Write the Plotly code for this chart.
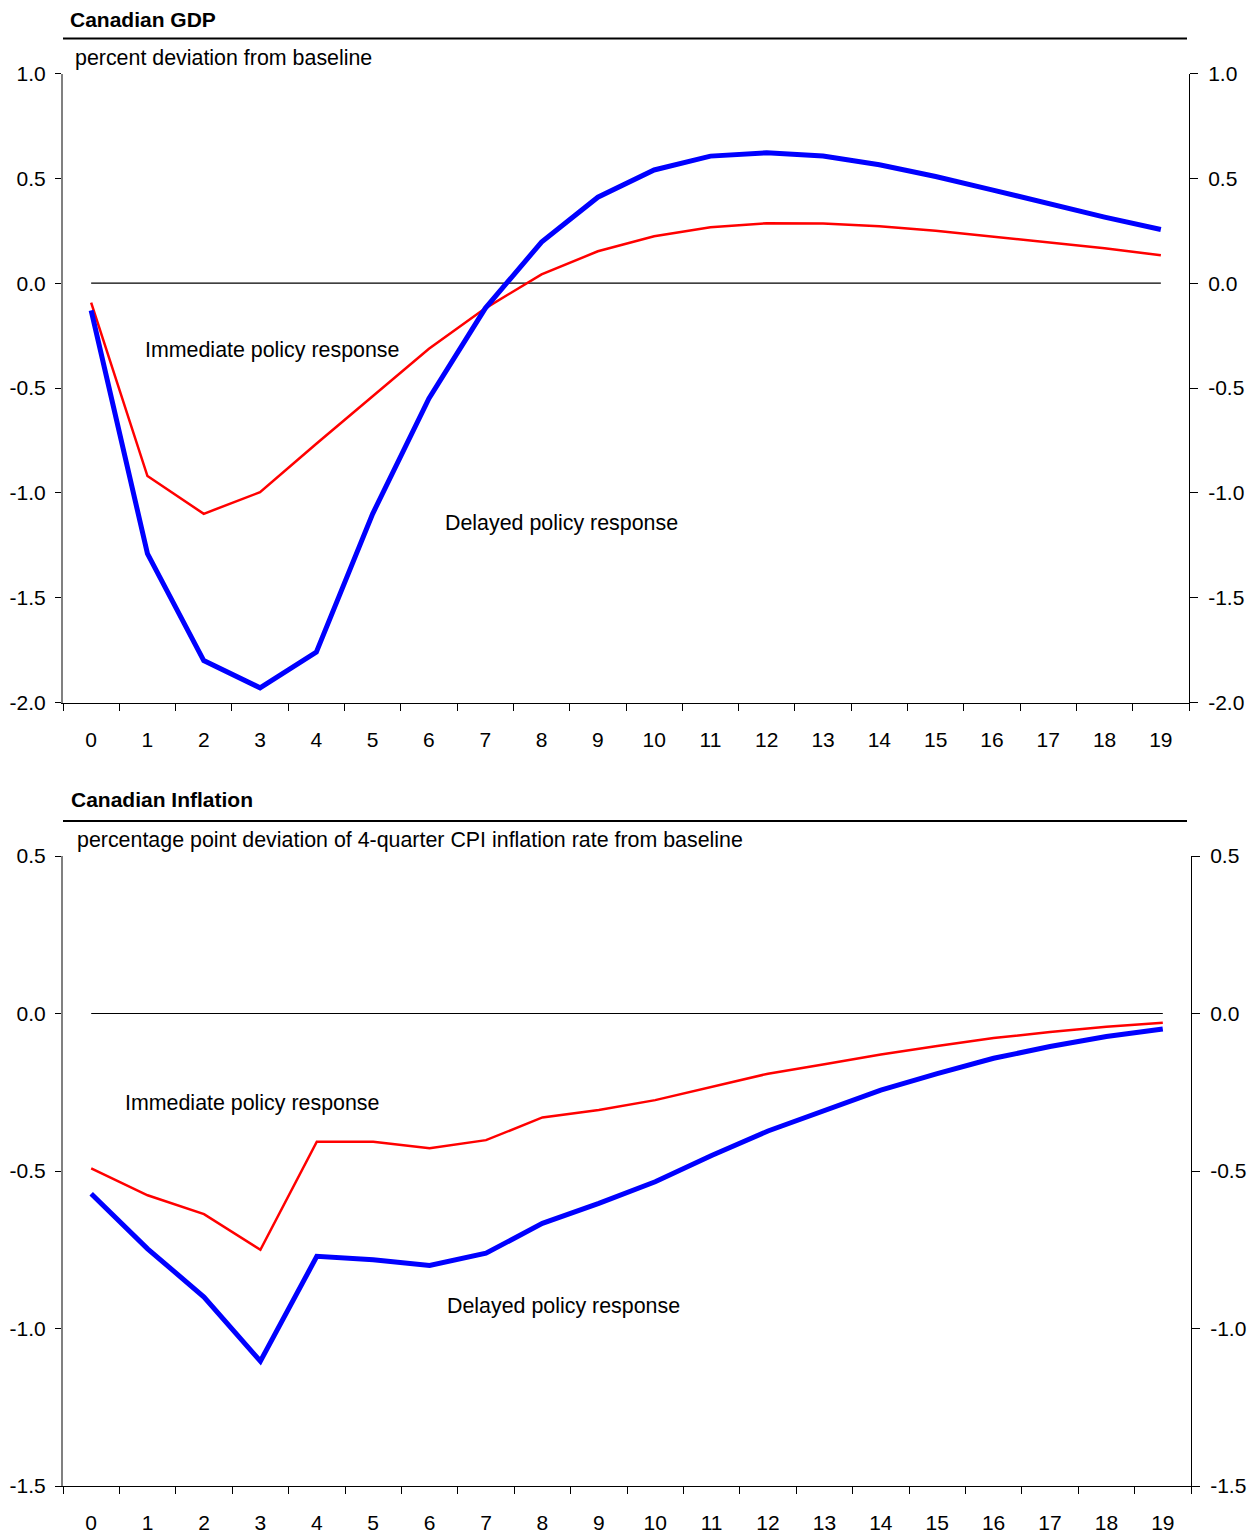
import plotly.graph_objects as go

W, H = 1259, 1537

# ---------------- data ----------------
quarters = [str(i) for i in range(20)]

gdp_delayed = [-0.13, -1.29, -1.80, -1.93, -1.76, -1.10, -0.55, -0.12, 0.196, 0.41,
               0.54, 0.606, 0.622, 0.606, 0.565, 0.509, 0.445, 0.379, 0.315, 0.256]
gdp_immediate = [-0.093, -0.92, -1.10, -0.997, -0.766, -0.54, -0.313, -0.12, 0.042, 0.152,
                 0.224, 0.267, 0.286, 0.285, 0.271, 0.250, 0.223, 0.197, 0.167, 0.133]

infl_delayed = [-0.572, -0.747, -0.900, -1.104, -0.771, -0.782, -0.800, -0.761, -0.666, -0.603,
                -0.534, -0.451, -0.373, -0.306, -0.243, -0.191, -0.142, -0.105, -0.073, -0.049]
infl_immediate = [-0.492, -0.577, -0.637, -0.750, -0.407, -0.407, -0.428, -0.402, -0.330, -0.306,
                  -0.275, -0.233, -0.191, -0.161, -0.130, -0.103, -0.078, -0.059, -0.042, -0.029]

gdp_tickvals = [1.0, 0.5, 0.0, -0.5, -1.0, -1.5, -2.0]
gdp_ticktext = ["1.0", "0.5", "0.0", "-0.5", "-1.0", "-1.5", "-2.0"]
infl_tickvals = [0.5, 0.0, -0.5, -1.0, -1.5]
infl_ticktext = ["0.5", "0.0", "-0.5", "-1.0", "-1.5"]

gdp_title = "Canadian GDP"
gdp_subtitle = "percent deviation from baseline"
infl_title = "Canadian Inflation"
infl_subtitle = "percentage point deviation of 4-quarter CPI inflation rate from baseline"
label_immediate = "Immediate policy response"
label_delayed = "Delayed policy response"

# ---------------- helpers ----------------
FONT = "Arial, Liberation Sans, sans-serif"
FS = 21
FS_TEXT = 21.4
BLUE = "#0000FF"
RED = "#FF0000"
OFF = 8  # page body margin


def px(x):
    return (x - OFF) / W


def py(y):
    return 1 - (y - OFF) / H


fig = go.Figure()

# GDP panel (red on main axis, blue on overlay so it sits on top)
fig.add_trace(go.Scatter(x=quarters, y=gdp_immediate, mode="lines",
                         line=dict(color=RED, width=2.5), xaxis="x", yaxis="y",
                         showlegend=False, hoverinfo="skip"))
fig.add_trace(go.Scatter(x=quarters, y=gdp_delayed, mode="lines",
                         line=dict(color=BLUE, width=5), xaxis="x", yaxis="y3",
                         showlegend=False, hoverinfo="skip"))
# Inflation panel
fig.add_trace(go.Scatter(x=quarters, y=infl_immediate, mode="lines",
                         line=dict(color=RED, width=2.5), xaxis="x2", yaxis="y2",
                         showlegend=False, hoverinfo="skip"))
fig.add_trace(go.Scatter(x=quarters, y=infl_delayed, mode="lines",
                         line=dict(color=BLUE, width=5), xaxis="x2", yaxis="y4",
                         showlegend=False, hoverinfo="skip"))

top_x = [px(63), px(1189)]
top_y = [py(702.5), py(73.5)]
bot_x = [px(63), px(1191)]
bot_y = [py(1486), py(856)]

xcommon = dict(type="category", tickson="boundaries", ticks="outside", ticklen=7,
               tickcolor="black", showline=True, linecolor="black", linewidth=1,
               showgrid=False, zeroline=False, range=[-0.5, 19.5], automargin=False,
               tickfont=dict(family=FONT, size=FS, color="black"),
               ticklabelstandoff=18, fixedrange=True)

ycommon = dict(tickcolor="black", showgrid=False, zeroline=False, showline=True,
               ticks="outside", automargin=False,
               tickfont=dict(family=FONT, size=FS, color="black"), fixedrange=True)

fig.update_layout(
    width=W, height=H,
    margin=dict(l=0, r=0, t=0, b=0, autoexpand=False),
    paper_bgcolor="white", plot_bgcolor="white",
    font=dict(family=FONT, size=FS, color="black"),
    showlegend=False,
    xaxis=dict(domain=top_x, anchor="y", **xcommon),
    yaxis=dict(domain=top_y, anchor="x", range=[-2, 1], tickmode="array",
               tickvals=gdp_tickvals, ticktext=gdp_ticktext, ticklen=6,
               ticklabelstandoff=5, linecolor="#808080", linewidth=2, **ycommon),
    yaxis3=dict(overlaying="y", side="right", anchor="x", range=[-2, 1], tickmode="array",
                tickvals=gdp_tickvals, ticktext=gdp_ticktext, ticklen=8,
                ticklabelstandoff=6, linecolor="black", linewidth=1, **ycommon),
    xaxis2=dict(domain=bot_x, anchor="y2", **xcommon),
    yaxis2=dict(domain=bot_y, anchor="x2", range=[-1.5, 0.5], tickmode="array",
                tickvals=infl_tickvals, ticktext=infl_ticktext, ticklen=6,
                ticklabelstandoff=5, linecolor="#808080", linewidth=2, **ycommon),
    yaxis4=dict(overlaying="y2", side="right", anchor="x2", range=[-1.5, 0.5], tickmode="array",
                tickvals=infl_tickvals, ticktext=infl_ticktext, ticklen=8,
                ticklabelstandoff=6, linecolor="black", linewidth=1, **ycommon),
)

# zero reference lines across data range
fig.add_shape(type="line", xref="x", yref="y", x0=quarters[0], x1=quarters[-1], y0=0, y1=0,
              line=dict(color="black", width=1.2), layer="below")
fig.add_shape(type="line", xref="x2", yref="y2", x0=quarters[0], x1=quarters[-1], y0=0, y1=0,
              line=dict(color="black", width=1.2), layer="below")

# title rules
fig.add_shape(type="line", xref="paper", yref="paper", x0=px(63), x1=px(1187),
              y0=py(38.5), y1=py(38.5), line=dict(color="black", width=2))
fig.add_shape(type="line", xref="paper", yref="paper", x0=px(63), x1=px(1187),
              y0=py(821), y1=py(821), line=dict(color="black", width=2))


def text(s, x, y, bold=False, size=FS_TEXT):
    fig.add_annotation(text=f"<b>{s}</b>" if bold else s, xref="paper", yref="paper",
                       x=px(x), y=py(y), xanchor="left", yanchor="middle", showarrow=False,
                       borderpad=0,
                       font=dict(family=FONT, size=size, color="black"))


text(gdp_title, 69, 19, bold=True, size=FS)
text(gdp_subtitle, 74, 58)
text(infl_title, 70, 799, bold=True, size=FS)
text(infl_subtitle, 76, 840)
text(label_immediate, 144, 350)
text(label_delayed, 444, 523)
text(label_immediate, 124, 1103)
text(label_delayed, 446, 1306)

fig.write_html("out.html")
